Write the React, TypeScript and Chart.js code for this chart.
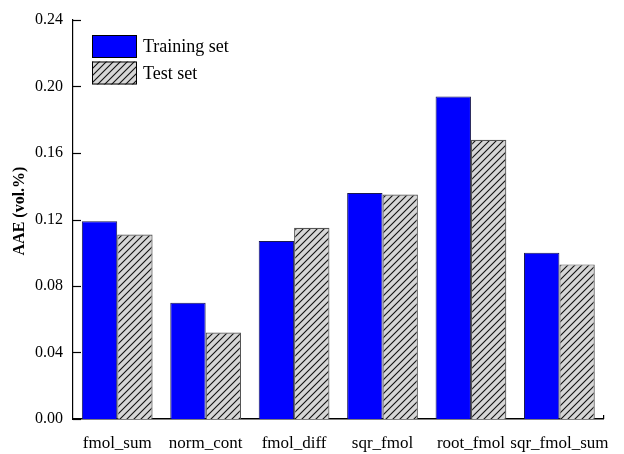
import React, { useEffect, useRef } from "react";
import { Chart, registerables } from "chart.js";

Chart.register(...registerables);

const categories = ["fmol_sum", "norm_cont", "fmol_diff", "sqr_fmol", "root_fmol", "sqr_fmol_sum"];
const trainingValues = [0.119, 0.070, 0.107, 0.136, 0.194, 0.100];
const testValues = [0.111, 0.052, 0.115, 0.135, 0.168, 0.093];
const seriesNames = ["Training set", "Test set"];
const yMin = 0;
const yMax = 0.24;
const yStep = 0.04;
const yTitle = "AAE (vol.%)";

const FONT = "'Liberation Serif', 'Times New Roman', serif";

function makeHatch(): CanvasPattern | string {
  const size = 7;
  const c = document.createElement("canvas");
  c.width = size;
  c.height = size;
  const g = c.getContext("2d");
  if (!g) return "#d4d4d4";
  g.fillStyle = "#d6d6d6";
  g.fillRect(0, 0, size, size);
  g.strokeStyle = "#111";
  g.lineWidth = 1.1;
  g.beginPath();
  g.moveTo(-1, size + 1);
  g.lineTo(size + 1, -1);
  g.moveTo(-1, 1);
  g.lineTo(1, -1);
  g.moveTo(size - 1, size + 1);
  g.lineTo(size + 1, size - 1);
  g.stroke();
  const p = g.createPattern(c, "repeat");
  return p || "#d4d4d4";
}

export default function App() {
  const ref = useRef<HTMLCanvasElement>(null);

  useEffect(() => {
    const canvas = ref.current;
    if (!canvas) return;
    const hatch = makeHatch();
    const fills = ["#0000ff", hatch];
    const borders = ["#1a1a50", "#555555"];

    const innerTicks = {
      id: "innerTicks",
      afterDatasetsDraw(chart: any) {
        const { ctx, chartArea, scales } = chart;
        const y = scales.y;
        ctx.save();
        ctx.strokeStyle = "#000";
        ctx.lineWidth = 1.2;
        y.ticks.forEach((t: any) => {
          const py = Math.round(y.getPixelForValue(t.value)) + 0.5;
          ctx.beginPath();
          ctx.moveTo(chartArea.left, py);
          ctx.lineTo(chartArea.left + 8, py);
          ctx.stroke();
        });
        ctx.beginPath();
        ctx.moveTo(chartArea.right, chartArea.bottom);
        ctx.lineTo(chartArea.right, chartArea.bottom - 4);
        ctx.stroke();
        // y-axis title
        ctx.save();
        ctx.translate(20, 211);
        ctx.rotate(-Math.PI / 2);
        ctx.fillStyle = "#000";
        ctx.font = `bold 16px ${FONT}`;
        ctx.textAlign = "center";
        ctx.textBaseline = "middle";
        ctx.fillText(yTitle, 0, 0);
        ctx.restore();
        ctx.restore();
      },
    };

    const boxLegend = {
      id: "boxLegend",
      afterDraw(chart: any) {
        const { ctx } = chart;
        ctx.save();
        const x0 = 92;
        const ys = [35, 61.5];
        const bw = 45;
        const bh = 23;
        chart.data.datasets.forEach((ds: any, i: number) => {
          const yy = ys[i];
          ctx.fillStyle = fills[i];
          ctx.fillRect(x0, yy, bw, bh);
          ctx.strokeStyle = "#000";
          ctx.lineWidth = 1;
          ctx.strokeRect(x0 + 0.5, yy + 0.5, bw - 1, bh - 1);
          ctx.fillStyle = "#000";
          ctx.font = `18px ${FONT}`;
          ctx.textBaseline = "middle";
          ctx.textAlign = "left";
          ctx.fillText(ds.label, x0 + bw + 6, yy + bh / 2 + 1);
        });
        ctx.restore();
      },
    };

    const chart = new Chart(canvas, {
      type: "bar",
      data: {
        labels: categories,
        datasets: [
          {
            label: seriesNames[0],
            data: trainingValues,
            backgroundColor: fills[0] as any,
            borderColor: borders[0],
            borderWidth: 1,
            categoryPercentage: 0.8,
            barPercentage: 1.0,
          },
          {
            label: seriesNames[1],
            data: testValues,
            backgroundColor: fills[1] as any,
            borderColor: borders[1],
            borderWidth: 1.2,
            categoryPercentage: 0.8,
            barPercentage: 1.0,
          },
        ],
      },
      options: {
        responsive: false,
        animation: false,
        layout: { padding: { top: 20, right: 18, left: 0, bottom: 0 } },
        plugins: {
          legend: { display: false },
          tooltip: { enabled: false },
        },
        scales: {
          x: {
            grid: { display: false, drawTicks: false },
            border: { display: true, color: "#000", width: 1.5 },
            ticks: {
              color: "#000",
              font: { family: FONT, size: 17 },
              padding: 14,
              maxRotation: 0,
              autoSkip: false,
            },
            afterFit: (s: any) => {
              s.height = 35;
            },
          },
          y: {
            min: yMin,
            max: yMax,
            grid: { display: false, drawTicks: false },
            border: { display: true, color: "#000", width: 1.2 },
            ticks: {
              stepSize: yStep,
              color: "#000",
              font: { family: FONT, size: 16 },
              padding: 10,
              callback: (v: any) => Number(v).toFixed(2),
            },
            title: { display: false, text: yTitle },
            afterFit: (s: any) => {
              s.width = 73;
            },
          },
        },
      },
      plugins: [innerTicks, boxLegend],
    });

    return () => chart.destroy();
  }, []);

  return (
    <div style={{ position: "absolute", left: 0, top: 0, width: 624, height: 454, background: "#fff" }}>
      <canvas ref={ref} width={624} height={454} style={{ display: "block" }} />
    </div>
  );
}
